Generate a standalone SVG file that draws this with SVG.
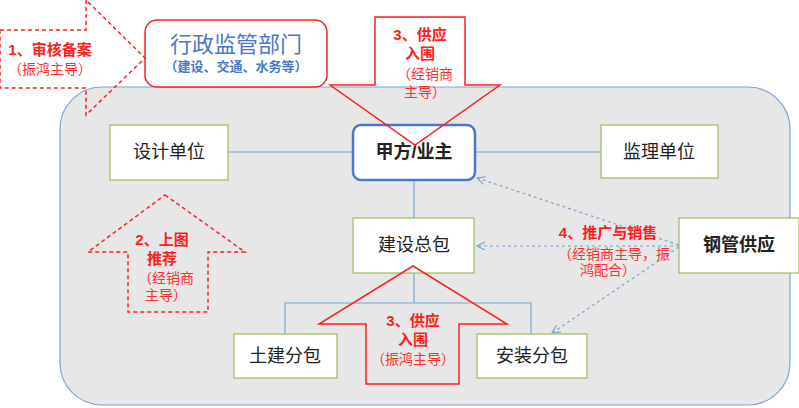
<svg xmlns="http://www.w3.org/2000/svg" width="799" height="408" viewBox="0 0 799 408">
<defs>
<style>
text{font-family:"Liberation Sans","Noto Sans CJK SC",sans-serif;text-anchor:middle}
.n{fill:#fff;stroke:#9bbb59;stroke-width:1.2}
.nt{font-size:18px;fill:#222}
.ln{stroke:#7aa3d4;stroke-width:1.2;fill:none}
.da{stroke:#7aa3d4;stroke-width:1.2;fill:none;stroke-dasharray:3 3;marker-end:url(#ah)}
.ra{fill:none;stroke:#ff2020;stroke-width:1.5}
.rt{fill:#ff2020;font-weight:bold;font-size:15px}
.rs{fill:#ff3030;font-size:14px}
</style>
<marker id="ah" markerWidth="10" markerHeight="10" refX="9" refY="5" orient="auto" markerUnits="userSpaceOnUse"><path d="M1,1 L9,5 L1,9" fill="none" stroke="#7aa3d4" stroke-width="1.2"/></marker>
</defs>
<rect x="60" y="87" width="730" height="318" rx="42" fill="#e7e7e7" stroke="#7aa6d8" stroke-width="1.2"/>
<g id="connectors">
<path class="ln" d="M228,152H353M475,152H601M414,180V218M414,273V303M285,334V303H531V334"/>
<path class="da" d="M679,245L477,178"/>
<path class="da" d="M679,246H477"/>
<path class="da" d="M679,247L552,333"/>
</g>
<g id="admin"><rect x="145" y="20" width="182" height="67" rx="12" fill="#fff" stroke="#ff2020" stroke-width="1.5"/>
<text x="236" y="52" font-size="22" fill="#4a78c8">行政监管部门</text>
<text x="236" y="71" font-size="13" font-weight="bold" fill="#4a78c8">（建设、交通、水务等）</text></g>
<g id="design"><rect class="n" x="110" y="125" width="118" height="55"/><text class="nt" x="169" y="158">设计单位</text></g>
<g id="owner"><rect x="353" y="125" width="122" height="55" rx="8" fill="#fff" stroke="#4a78c8" stroke-width="2.5"/><text class="nt" x="414" y="158" font-weight="bold">甲方/业主</text></g>
<g id="supervisor"><rect class="n" x="601" y="125" width="117" height="53"/><text class="nt" x="659" y="158">监理单位</text></g>
<g id="general"><rect class="n" x="353" y="218" width="121" height="55"/><text class="nt" x="414" y="251">建设总包</text></g>
<g id="steel"><rect class="n" x="679" y="218" width="120" height="55"/><text class="nt" x="739" y="251" font-weight="bold">钢管供应</text></g>
<g id="civil"><rect class="n" x="234" y="334" width="103" height="44"/><text class="nt" x="285" y="362">土建分包</text></g>
<g id="install"><rect class="n" x="477" y="334" width="110" height="44"/><text class="nt" x="532" y="362">安装分包</text></g>
<g id="arrow1"><polygon class="ra" stroke-dasharray="4 3" points="0,30 86,30 86,0 145,58 86,115 86,88 0,88"/>
<text class="rt" x="50" y="55">1、审核备案</text><text class="rs" x="50" y="74">（振鸿主导）</text></g>
<g id="arrow2"><polygon class="ra" stroke-dasharray="4 3" points="165,195 245,252 208,252 208,312 128,312 128,252 88,252"/>
<text class="rt" x="162" y="245">2、上图</text><text class="rt" x="162" y="264">推荐</text>
<text class="rs" x="166" y="283">（经销商</text><text class="rs" x="166" y="300">主导）</text></g>
<g id="arrow3"><polygon class="ra" points="375,17 465,17 465,85 500,85 415,145 330,85 375,85"/>
<text class="rt" x="420" y="40">3、供应</text><text class="rt" x="420" y="59">入围</text>
<text class="rs" x="425" y="79">（经销商</text><text class="rs" x="425" y="97">主导）</text></g>
<g id="arrow4"><polygon class="ra" points="413,266 507,324 459,324 459,384 366,384 366,324 319,324"/>
<text class="rt" x="413" y="326">3、供应</text><text class="rt" x="413" y="345">入围</text>
<text class="rs" x="413" y="364">（振鸿主导）</text></g>
<g id="label4"><text class="rt" x="608" y="238">4、推广与销售</text>
<text class="rs" x="614" y="259">（经销商主导，振</text><text class="rs" x="608" y="275">鸿配合）</text></g>
</svg>
